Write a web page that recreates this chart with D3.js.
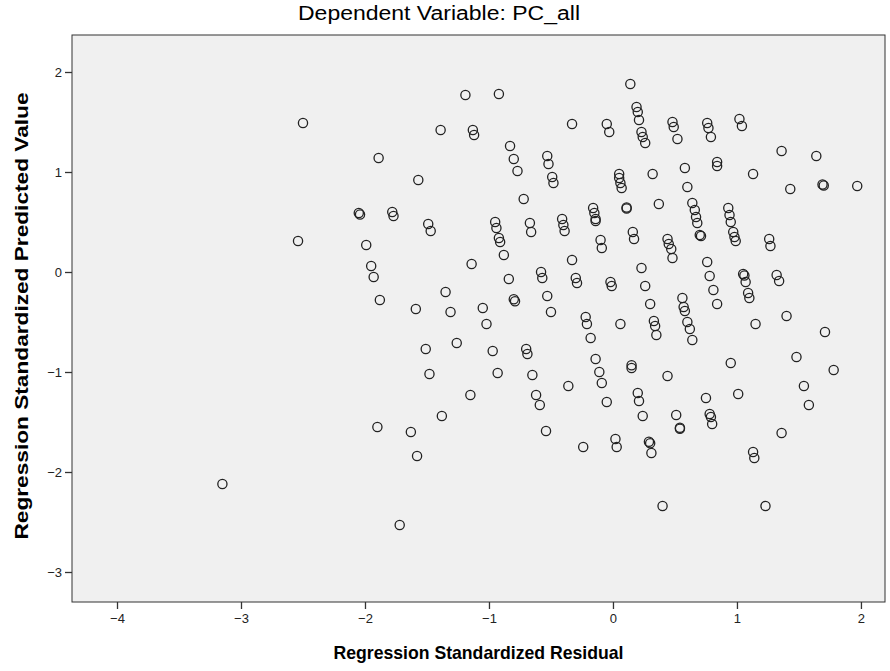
<!DOCTYPE html>
<html>
<head>
<meta charset="utf-8">
<script src="https://cdn.jsdelivr.net/npm/d3@7"></script>
<style>
  html, body { margin: 0; padding: 0; background: #ffffff; }
  svg { display: block; font-family: "Liberation Sans", Arial, sans-serif; }
</style>
</head>
<body>
<svg id="chart" width="890" height="671"></svg>
<script>
// Scatterplot: standardized residuals vs. standardized predicted values
const chartTitle = "Dependent Variable: PC_all";
const xTitle = "Regression Standardized Residual";
const yTitle = "Regression Standardized Predicted Value";

const xTicks = [-4, -3, -2, -1, 0, 1, 2];
const yTicks = [-3, -2, -1, 0, 1, 2];

// Regression Standardized Residual
const residual = [
  -2.50, -1.39, -1.89, -1.57, -2.05, -2.04, -1.78, -1.77, -1.49, -1.47,
  -2.54, -1.99, -1.95, -1.93, 0.14, -1.19, -0.92, -1.13, -1.12, 0.19,
  0.20, 0.21, 0.48, 0.49, 0.52, -0.33, -0.05, -0.03, 0.23, 0.24,
  0.26, -0.83, -0.80, -0.77, -0.53, -0.52, -0.49, -0.48, 0.05, 0.05,
  0.06, 0.07, 0.32, 0.58, 0.60, -0.72, 0.11, 0.11, 0.37, -0.16,
  -0.15, -0.14, -0.14, -0.95, -0.94, -0.92, -0.91, -0.88, -0.67, -0.66,
  -0.41, -0.40, -0.39, -0.10, -0.09, 0.16, 0.17, 0.44, 0.45, 0.47,
  0.48, -1.14, -0.33, 0.23, -0.84, -0.58, -0.57, -0.30, -0.29, -0.02,
  -0.01, 0.76, 0.77, 0.79, 1.02, 1.04, 1.36, 1.64, 0.84, 0.84,
  1.13, 1.43, 1.69, 1.70, 1.97, 0.64, 0.66, 0.67, 0.68, 0.71,
  0.70, 0.93, 0.94, 0.95, 0.97, 0.98, 0.99, 1.26, 1.27, 0.76,
  0.78, 0.81, 0.84, 1.05, 1.06, 1.07, 1.09, 1.10, 1.32, 1.34,
  0.56, 0.57, 0.58, 0.60, 0.62, 0.64, 1.15, 1.40, 1.71, 1.48,
  1.78, 0.95, 0.44, 1.54, 1.58, 0.75, 1.01, 0.51, 0.78, 0.79,
  0.54, 0.54, 0.80, 1.36, 1.13, 1.14, 0.40, 1.23, -1.35, -1.31,
  -1.51, -1.48, -1.15, -1.38, -1.26, -1.05, -1.02, -0.80, -0.79, -0.97,
  -0.93, -0.53, -0.50, -0.70, -0.69, -0.65, -0.62, -0.59, -0.22, -0.21,
  -0.18, -0.36, -0.14, -0.11, -0.09, -0.05, 0.06, 0.15, 0.15, 0.20,
  0.21, 0.24, 0.26, 0.30, 0.33, 0.34, 0.35, -1.88, -1.59, -1.90,
  -1.63, -1.58, -3.15, -1.72, -0.54, -0.24, 0.02, 0.03, 0.29, 0.30,
  0.31
];

// Regression Standardized Predicted Value
const predicted = [
  1.49, 1.42, 1.14, 0.92, 0.59, 0.575, 0.60, 0.56, 0.48, 0.41,
  0.31, 0.27, 0.06, -0.05, 1.88, 1.77, 1.78, 1.42, 1.37, 1.65,
  1.60, 1.52, 1.50, 1.45, 1.33, 1.48, 1.48, 1.40, 1.40, 1.35,
  1.29, 1.26, 1.13, 1.01, 1.16, 1.08, 0.95, 0.89, 0.98, 0.94,
  0.89, 0.84, 0.98, 1.04, 0.85, 0.73, 0.645, 0.635, 0.68, 0.64,
  0.59, 0.53, 0.51, 0.50, 0.44, 0.34, 0.30, 0.17, 0.49, 0.40,
  0.53, 0.47, 0.41, 0.32, 0.24, 0.40, 0.33, 0.33, 0.28, 0.23,
  0.14, 0.08, 0.12, 0.04, -0.07, 0.00, -0.06, -0.06, -0.11, -0.10,
  -0.14, 1.49, 1.44, 1.35, 1.53, 1.46, 1.21, 1.16, 1.10, 1.06,
  0.98, 0.83, 0.875, 0.865, 0.86, 0.69, 0.62, 0.55, 0.49, 0.36,
  0.37, 0.64, 0.57, 0.50, 0.40, 0.35, 0.31, 0.33, 0.26, 0.10,
  -0.04, -0.18, -0.32, -0.02, -0.035, -0.10, -0.21, -0.26, -0.03, -0.09,
  -0.26, -0.35, -0.39, -0.50, -0.57, -0.68, -0.52, -0.44, -0.60, -0.85,
  -0.98, -0.91, -1.04, -1.14, -1.33, -1.26, -1.22, -1.43, -1.42, -1.45,
  -1.557, -1.567, -1.52, -1.61, -1.80, -1.86, -2.34, -2.34, -0.20, -0.40,
  -0.77, -1.02, -1.23, -1.44, -0.71, -0.36, -0.52, -0.273, -0.293, -0.79,
  -1.01, -0.24, -0.40, -0.77, -0.82, -1.03, -1.23, -1.33, -0.45, -0.52,
  -0.66, -1.14, -0.87, -1.00, -1.11, -1.30, -0.52, -0.933, -0.96, -1.21,
  -1.29, -1.44, -0.14, -0.32, -0.49, -0.54, -0.63, -0.28, -0.37, -1.55,
  -1.60, -1.84, -2.12, -2.53, -1.59, -1.75, -1.67, -1.75, -1.697, -1.713,
  -1.81
];

const points = residual.map((r, i) => ({ x: r, y: predicted[i] }));

const svg = d3.select("#chart");
const plot = { left: 72, right: 885, top: 35, bottom: 602 };

const x = d3.scaleLinear().domain([-4.363, 2.194]).range([plot.left, plot.right]);
const y = d3.scaleLinear().domain([-3.30, 2.37]).range([plot.bottom, plot.top]);

// Plot background and frame
svg.append("rect")
  .attr("x", plot.left).attr("y", plot.top)
  .attr("width", plot.right - plot.left).attr("height", plot.bottom - plot.top)
  .attr("fill", "#f0f0f0")
  .attr("stroke", "#333").attr("stroke-width", 1);

// Axes
const xAxis = svg.append("g")
  .attr("transform", `translate(0,${plot.bottom})`)
  .call(d3.axisBottom(x).tickValues(xTicks).tickSize(7).tickPadding(5).tickFormat(d3.format("d")));
const yAxis = svg.append("g")
  .attr("transform", `translate(${plot.left},0)`)
  .call(d3.axisLeft(y).tickValues(yTicks).tickSize(7).tickPadding(3).tickFormat(d3.format("d")));

[xAxis, yAxis].forEach(g => {
  g.select(".domain").remove();
  g.selectAll(".tick line").attr("stroke", "#333").attr("stroke-width", 1.3);
  g.selectAll(".tick text")
    .attr("fill", "#222")
    .style("font-family", "'Liberation Sans', Arial, sans-serif")
    .style("font-size", "13px");
});

// Points: open circles
svg.append("g")
  .selectAll("circle")
  .data(points)
  .join("circle")
  .attr("cx", d => x(d.x))
  .attr("cy", d => y(d.y))
  .attr("r", 4.6)
  .attr("fill", "none")
  .attr("stroke", "#222")
  .attr("stroke-width", 1.3);

// Titles, glyphs fitted to a set length
svg.append("text")
  .attr("x", 439).attr("y", 20)
  .attr("text-anchor", "middle")
  .attr("textLength", 282)
  .attr("lengthAdjust", "spacingAndGlyphs")
  .style("font-size", "20px")
  .style("font-weight", "normal")
  .attr("fill", "#000")
  .text(chartTitle);

svg.append("text")
  .attr("x", (plot.left + plot.right) / 2).attr("y", 659)
  .attr("text-anchor", "middle")
  .attr("textLength", 290)
  .attr("lengthAdjust", "spacingAndGlyphs")
  .style("font-size", "19px")
  .style("font-weight", "bold")
  .attr("fill", "#000")
  .text(xTitle);

svg.append("text")
  .attr("transform", `translate(28,316) rotate(-90)`)
  .attr("text-anchor", "middle")
  .attr("textLength", 447)
  .attr("lengthAdjust", "spacingAndGlyphs")
  .style("font-size", "19px")
  .style("font-weight", "bold")
  .attr("fill", "#000")
  .text(yTitle);
</script>
</body>
</html>
